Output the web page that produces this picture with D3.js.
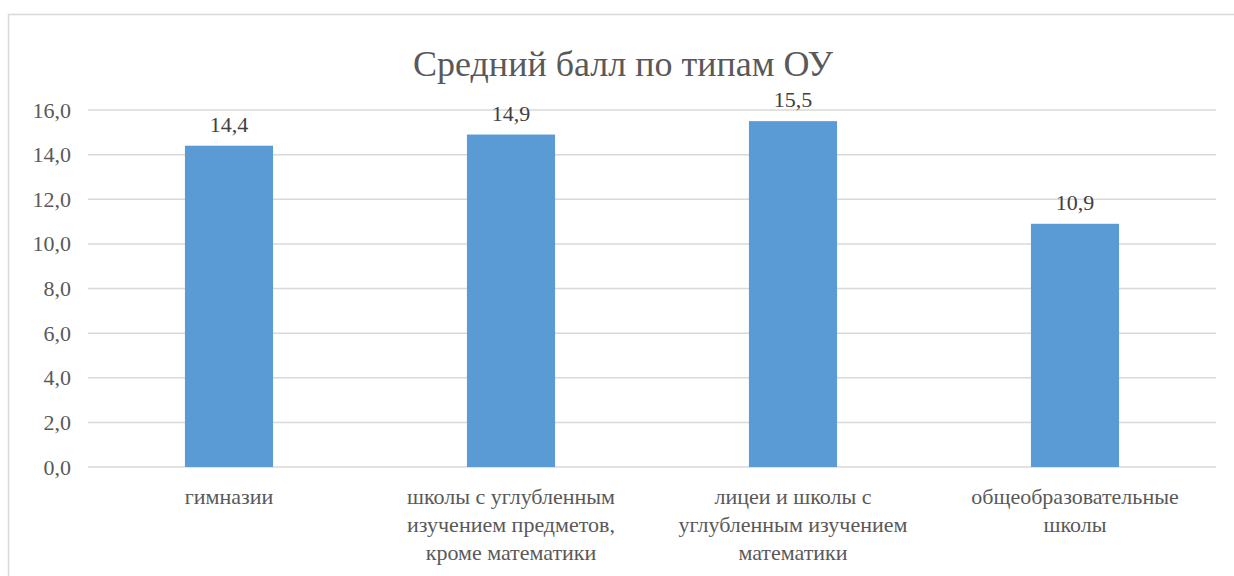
<!DOCTYPE html>
<html>
<head>
<meta charset="utf-8">
<script src="https://cdn.jsdelivr.net/npm/d3@7"></script>
<style>
  body { margin: 0; background: #fff; }
</style>
</head>
<body>
<script>
// data
var categories = [
  ["гимназии"],
  ["школы с углубленным", "изучением предметов,", "кроме математики"],
  ["лицеи и школы с", "углубленным изучением", "математики"],
  ["общеобразовательные", "школы"]
];
var values = [14.4, 14.9, 15.5, 10.9];
var yTicks = [0, 2, 4, 6, 8, 10, 12, 14, 16];
var title = "Средний балл по типам ОУ";

var serif = "'Liberation Serif', 'DejaVu Serif', 'Times New Roman', Times, serif";

var W = 1234, H = 576;
var margin = {top: 110, right: 18, bottom: 109, left: 88},
width = W - margin.left - margin.right,
height = H - margin.top - margin.bottom;

var fmt = function(v) { return d3.format(".1f")(v).replace(".", ","); };

var svg = d3.select("body").append("svg")
.attr("width", W)
.attr("height", H)
.style("font-family", serif);

// chart area border
svg.append("rect")
.attr("x", 8.5).attr("y", 14.5)
.attr("width", 1240).attr("height", 600)
.attr("fill", "none")
.attr("stroke", "#d9d9d9")
.attr("stroke-width", 1.5);

svg.append("text")
.attr("x", 623)
.attr("y", 76)
.attr("text-anchor", "middle")
.attr("fill", "#595959")
.style("font-family", serif)
.style("font-size", "36px")
.text(title);

var g = svg.append("g")
.attr("transform", "translate(" + margin.left + "," + margin.top + ")");

var x = d3.scaleBand().domain(d3.range(categories.length)).range([0, width]);
var y = d3.scaleLinear().domain([0, 16]).range([height, 0]);

// gridlines
g.append("g")
.selectAll("line")
.data(yTicks)
.enter().append("line")
.attr("x1", 0).attr("x2", width)
.attr("y1", function(d) { return y(d); })
.attr("y2", function(d) { return y(d); })
.attr("stroke", "#d9d9d9")
.attr("stroke-width", 1.5);

// y axis labels
var yAxis = d3.axisLeft(y).tickValues(yTicks).tickFormat(fmt).tickSize(0).tickPadding(17);
var ya = g.append("g").call(yAxis);
ya.select(".domain").remove();
ya.selectAll("text")
.attr("fill", "#595959")
.style("font-family", serif)
.style("font-size", "22px");

// bars
var barW = x.bandwidth() * 0.3125;
g.selectAll(".bar")
.data(values)
.enter().append("rect")
.attr("class", "bar")
.attr("x", function(d, i) { return x(i) + (x.bandwidth() - barW) / 2; })
.attr("y", function(d) { return y(d); })
.attr("width", barW)
.attr("height", function(d) { return y(0) - y(d); })
.attr("fill", "#5b9bd5");

// value labels
g.selectAll(".val")
.data(values)
.enter().append("text")
.attr("class", "val")
.attr("x", function(d, i) { return x(i) + x.bandwidth() / 2; })
.attr("y", function(d) { return y(d) - 14; })
.attr("text-anchor", "middle")
.attr("fill", "#404040")
.style("font-family", serif)
.style("font-size", "22px")
.text(fmt);

// category labels
var cat = g.selectAll(".cat")
.data(categories)
.enter().append("text")
.attr("class", "cat")
.attr("x", function(d, i) { return x(i) + x.bandwidth() / 2; })
.attr("y", height + 37)
.attr("text-anchor", "middle")
.attr("fill", "#595959")
.style("font-family", serif)
.style("font-size", "22px");

cat.selectAll("tspan")
.data(function(d) { return d; })
.enter().append("tspan")
.attr("x", function() { return d3.select(this.parentNode).attr("x"); })
.attr("dy", function(d, i) { return i == 0 ? 0 : 28; })
.text(function(d) { return d; });
</script>
</body>
</html>
